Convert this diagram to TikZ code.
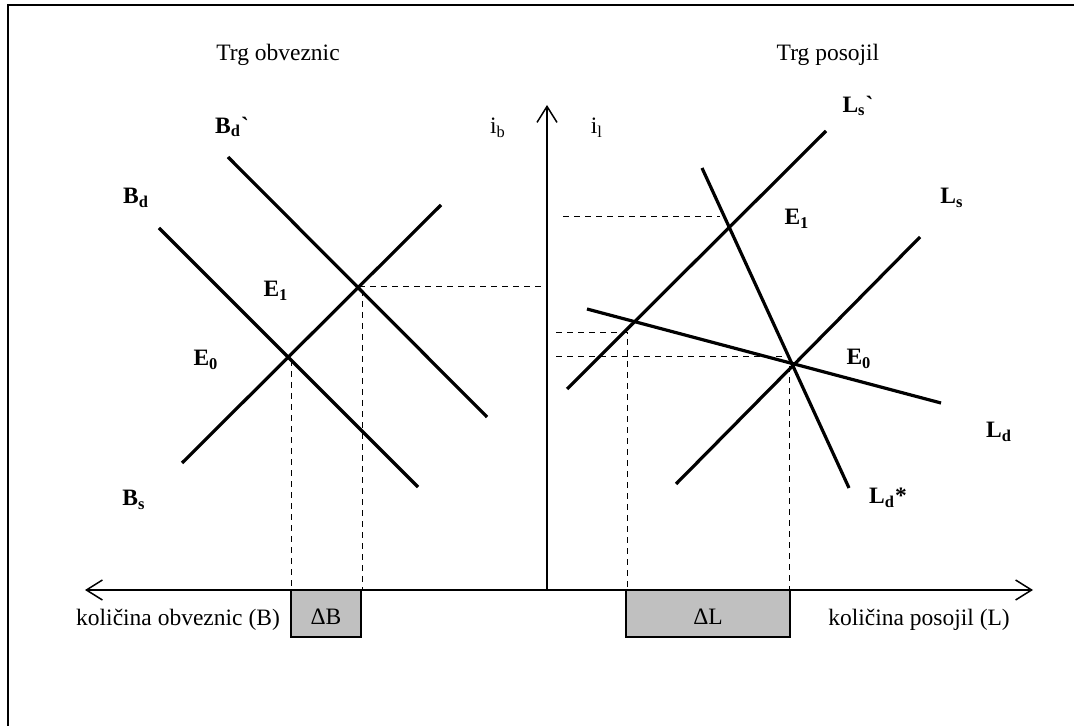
\documentclass[tikz,border=0pt]{standalone}
\usepackage{fontspec}
\setmainfont{Liberation Serif}
\usetikzlibrary{arrows.meta}
\definecolor{boxgray}{HTML}{C0C0C0}

\begin{document}
\begin{tikzpicture}[
  x=0.5pt,y=-0.5pt,
  font=\fontsize{11.75}{14}\selectfont,
  curve/.style={line width=1.6pt,line cap=butt},
  guide/.style={line width=0.5pt,dash pattern=on 3pt off 2.5pt},
  axis/.style={line width=0.75pt},
  barb/.tip={Straight Barb[length=8pt,width=10pt]},
  lbl/.style={font=\fontsize{11.75}{14}\selectfont\bfseries,inner sep=0pt},
  txt/.style={inner sep=0pt},
  dbox/.style={draw,fill=boxgray,line width=0.75pt,minimum height=23.5pt,inner sep=0pt}
]
\useasboundingbox (0,0) rectangle (1074,726);
\draw[line width=1.2pt] (8,5) rectangle (1085,740);

% axes
\coordinate (O) at (547,590);
\draw[axis,-{barb}] (O) -- (547,105) coordinate (ytop);
\draw[axis,{barb}-{barb}] (85,590) coordinate (xl) -- (1033,590) coordinate (xr);

% bond market
\draw[curve] (228,157) coordinate (bdd1) -- (487,417) coordinate (bdd2);
\draw[curve] (159,228) coordinate (bd1) -- (418,487) coordinate (bd2);
\draw[curve] (182,463) coordinate (bs1) -- (441,205) coordinate (bs2);
\coordinate (bE1) at (359,287);
\coordinate (bE0) at (288,357);
\draw[guide] (bE1) -- (bE1 -| O);
\draw[guide] (291,360) -- (291,590);
\draw[guide] (362,290) -- (362,590);

% loan market
\draw[curve] (567,389) coordinate (lss1) -- (826,131) coordinate (lss2);
\draw[curve] (702,168) coordinate (lds1) -- (849,488) coordinate (lds2);
\draw[curve] (676,484) coordinate (ls1) -- (920,237) coordinate (ls2);
\draw[curve] (587,309) coordinate (ld1) -- (941,403) coordinate (ld2);
\coordinate (lE1) at (729,228);
\coordinate (lE0) at (793,365);
\draw[guide] (563,217) -- (720,217);
\draw[guide] (556,333) -- (627,333) -- (627,590);
\draw[guide] (556,357) -- (789,357) -- (789,590);

% boxes
\node[dbox,minimum width=35pt] (dB) at (326,613.5) {};
\node[txt] (dBt) at (326,617) {ΔB};
\node[dbox,minimum width=82pt] (dL) at (708,613.5) {};
\node[txt] (dLt) at (708,617) {ΔL};

% labels
\node[txt] (tb) at (278,55) {Trg obveznic};
\node[txt] (tl) at (828,55) {Trg posojil};
\node[txt] (ib) at (498,128) {i\textsubscript{b}};
\node[txt] (il) at (597,128) {i\textsubscript{l}};
\node[txt] (qb) at (178,620) {količina obveznic (B)};
\node[txt] (ql) at (919,620) {količina posojil (L)};

\node[lbl] (Bdd) at (232,127) {B\textsubscript{d}\textasciigrave};
\node[lbl] (Bd) at (136,198) {B\textsubscript{d}};
\node[lbl] (Bs) at (134,500) {B\textsubscript{s}};
\node[lbl] (bE1t) at (276,291) {E\textsubscript{1}};
\node[lbl] (bE0t) at (206,360) {E\textsubscript{0}};

\node[lbl] (Lss) at (858,106) {L\textsubscript{s}\textasciigrave};
\node[lbl] (Ls) at (952,198) {L\textsubscript{s}};
\node[lbl] (Ld) at (999,432) {L\textsubscript{d}};
\node[lbl] (Lds) at (888,498) {L\textsubscript{d}*};
\node[lbl] (lE1t) at (797,219) {E\textsubscript{1}};
\node[lbl] (lE0t) at (859,359) {E\textsubscript{0}};
\end{tikzpicture}
\end{document}
